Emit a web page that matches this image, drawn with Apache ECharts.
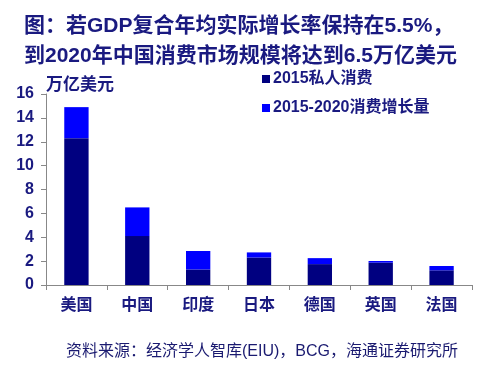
<!DOCTYPE html>
<html><head><meta charset="utf-8">
<script src="https://cdn.jsdelivr.net/npm/echarts@6/dist/echarts.min.js"></script>
<style>html,body{margin:0;padding:0;background:#fff}#c{width:487px;height:368px}</style>
</head><body><div id="c"></div>
<script>
const categories = ['美国','中国','印度','日本','德国','英国','法国'];
const base2015 = [12.3, 4.1, 1.3, 2.3, 1.75, 1.87, 1.23];
const growth = [2.6, 2.4, 1.55, 0.43, 0.5, 0.14, 0.36];
const seriesNames = ['2015私人消费','2015-2020消费增长量'];
const yTicks = [0, 2, 4, 6, 8, 10, 12, 14, 16];
const titleLines = ['图：若GDP复合年均实际增长率保持在5.5%，','到2020年中国消费市场规模将达到6.5万亿美元'];
const unitLabel = '万亿美元';
const sourceText = '资料来源：经济学人智库(EIU)，BCG，海通证券研究所';

const FONT = '"Liberation Sans", Arial, "Noto Sans CJK SC", sans-serif';
const NAVY = '#1a1a80';
const chart = echarts.init(document.getElementById('c'));
chart.setOption({
  animation: false,
  textStyle: { fontFamily: FONT },
  title: [{
    text: titleLines.join('\n'),
    left: 19, top: 6,
    textStyle: { fontFamily: FONT, fontSize: 21, fontWeight: 'bold', color: NAVY, lineHeight: 30 }
  }, {
    text: sourceText,
    left: 61, top: 339,
    textStyle: { fontFamily: FONT, fontSize: 16, fontWeight: 'normal', color: '#1a1a70' }
  }],
  legend: {
    orient: 'vertical', left: 257, top: 66, itemGap: 13,
    itemWidth: 8, itemHeight: 8, icon: 'rect',
    textStyle: { fontFamily: FONT, fontSize: 16, fontWeight: 'bold', color: NAVY, padding: [0,0,0,-2] },
    data: seriesNames
  },
  grid: { left: 46, right: 15, top: 94, bottom: 83 },
  xAxis: {
    type: 'category', data: categories,
    axisLine: { lineStyle: { color: '#888', width: 1 } },
    axisTick: { show: true, length: 5, lineStyle: { color: '#888' } },
    axisLabel: { fontFamily: FONT, fontSize: 16, fontWeight: 'bold', color: NAVY, margin: 13 }
  },
  yAxis: {
    type: 'value', min: yTicks[0], max: yTicks[yTicks.length-1], interval: 2,
    name: unitLabel, nameLocation: 'end', nameGap: 0,
    nameTextStyle: { fontFamily: FONT, fontSize: 17, color: NAVY, align: 'left', fontWeight: 'bold' },
    axisLine: { show: true, lineStyle: { color: '#888', width: 1 } },
    axisTick: { show: true, length: 5, lineStyle: { color: '#888' } },
    splitLine: { show: false },
    axisLabel: { fontFamily: FONT, fontSize: 16, fontWeight: 'bold', color: NAVY, margin: 12 }
  },
  series: [{
    name: seriesNames[0], type: 'bar', stack: 'a', data: base2015,
    barWidth: '40%', itemStyle: { color: '#000080' }
  }, {
    name: seriesNames[1], type: 'bar', stack: 'a', data: growth,
    barWidth: '40%', itemStyle: { color: '#0000ff' }
  }]
});
</script></body></html>
